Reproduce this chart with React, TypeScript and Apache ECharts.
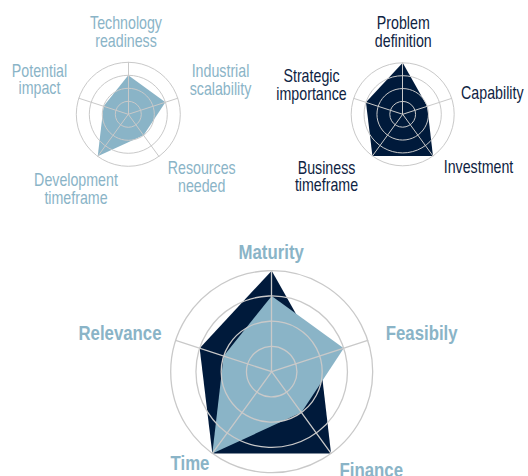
import React, { useEffect, useRef } from "react";
import * as echarts from "echarts";

// Indicators listed clockwise from the top
const techIndicators = ["Technology\nreadiness", "Industrial\nscalability", "Resources\nneeded", "Development\ntimeframe", "Potential\nimpact"];
const bizIndicators = ["Problem\ndefinition", "Capability", "Investment", "Business\ntimeframe", "Strategic\nimportance"];
const mainIndicators = ["Maturity", "Feasibily", "Finance", "Time", "Relevance"];
const maxValue = 4;

// Values clockwise from the top
const techValues = [3, 3, 2, 4, 2];
const bizValues = [4, 2, 4, 4, 3];

const LIGHT = "#8ab4c7";
const DARK = "#001a3b";
const DARK_TEXT = "#0e2342";
const GRID = "#c9c9c9";
const FONT = '"Liberation Sans", Arial, sans-serif';

// ECharts radar goes counter-clockwise; convert clockwise order
const ccw = <T,>(a: T[]): T[] => [a[0], a[4], a[3], a[2], a[1]];

function radarCfg(center: number[], radius: number, names: string[], lw: number) {
  return {
    z: 5,
    center,
    radius,
    startAngle: 90,
    splitNumber: 4,
    shape: "circle",
    indicator: ccw(names).map((n) => ({ name: n, min: 0, max: maxValue })),
    axisName: { show: false },
    splitArea: { show: false },
    splitLine: { lineStyle: { color: GRID, width: lw } },
    axisLine: { lineStyle: { color: GRID, width: lw } },
    axisTick: { show: false },
    axisLabel: { show: false },
  };
}

function label(text: string, x: number, y: number, color: string, size: number, bold = false) {
  return {
    type: "text",
    x,
    y,
    scaleX: bold ? 0.84 : 0.79,
    silent: true,
    style: {
      text,
      fill: color,
      font: `${bold ? "bold " : ""}${size}px ${FONT}`,
      textAlign: "center",
      textVerticalAlign: "middle",
      lineHeight: 17.5,
    },
  };
}

export default function App() {
  const ref = useRef<HTMLDivElement>(null);
  useEffect(() => {
    if (!ref.current) return;
    const chart = echarts.init(ref.current, undefined, { renderer: "svg" });
    const area = (color: string) => ({
      symbol: "none",
      lineStyle: { width: 0, color },
      areaStyle: { color, opacity: 1 },
      itemStyle: { color },
    });
    chart.setOption({
      animation: false,
      backgroundColor: "#ffffff",
      radar: [
        radarCfg([128.3, 114.3], 52, techIndicators, 1),
        radarCfg([402.7, 114.3], 51.5, bizIndicators, 1),
        radarCfg([271.7, 371.7], 101, mainIndicators, 1.3),
      ],
      series: [
        { type: "radar", radarIndex: 0, z: 2, data: [{ value: ccw(techValues), ...area(LIGHT) }] },
        { type: "radar", radarIndex: 1, z: 2, data: [{ value: ccw(bizValues), ...area(DARK) }] },
        {
          type: "radar",
          radarIndex: 2,
          z: 2,
          data: [
            { value: ccw(bizValues), ...area(DARK) },
            { value: ccw(techValues), ...area(LIGHT) },
          ],
        },
      ],
      graphic: [
        label(techIndicators[0], 126, 31.5, LIGHT, 18),
        label(techIndicators[1], 220.5, 79.3, LIGHT, 18),
        label(techIndicators[2], 201.7, 176.3, LIGHT, 18),
        label(techIndicators[3], 76, 188.5, LIGHT, 18),
        label(techIndicators[4], 39.5, 79, LIGHT, 18),
        label(bizIndicators[0], 403.3, 31.5, DARK_TEXT, 18),
        label(bizIndicators[1], 492.3, 92.8, DARK_TEXT, 18),
        label(bizIndicators[2], 478.5, 166.8, DARK_TEXT, 18),
        label(bizIndicators[3], 326.5, 176, DARK_TEXT, 18),
        label(bizIndicators[4], 311.5, 84.3, DARK_TEXT, 18),
        label(mainIndicators[0], 271.2, 252, LIGHT, 20, true),
        label(mainIndicators[1], 421.7, 333, LIGHT, 20, true),
        label(mainIndicators[2], 371.3, 469.5, LIGHT, 20, true),
        label(mainIndicators[3], 190, 463, LIGHT, 20, true),
        label(mainIndicators[4], 120, 333, LIGHT, 20, true),
      ],
    });
    return () => chart.dispose();
  }, []);
  return <div ref={ref} style={{ position: "absolute", left: 0, top: 0, width: 528, height: 476 }} />;
}
